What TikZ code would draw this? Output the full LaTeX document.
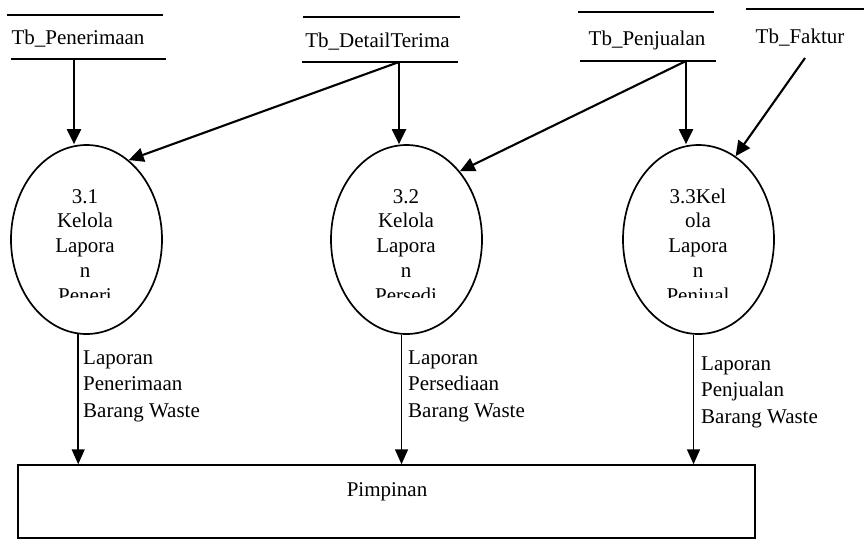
\documentclass[tikz,border=0pt]{standalone}
\usepackage{fontspec}
\setmainfont{Liberation Serif}
\usetikzlibrary{arrows.meta,shapes.geometric}
\begin{document}
\begin{tikzpicture}[x=1pt,y=-1pt,
  every node/.style={font=\fontsize{21}{25}\selectfont, inner sep=0pt},
  store/.style={anchor=base},
  storeline/.style={line width=1.6pt},
  proc/.style={draw, ellipse, line width=1.7pt, minimum width=151pt, minimum height=189pt},
  proctext/.style={anchor=base, align=center, font=\fontsize{21}{24.7}\selectfont},
  flow/.style={line width=2.1pt, -{Triangle[length=15pt,width=14pt]}},
  outflow/.style={line width=1.5pt, -{Triangle[length=15pt,width=13pt]}},
  flowlabel/.style={anchor=base west, align=left, font=\fontsize{21}{26.5}\selectfont},
  entity/.style={draw, line width=1.5pt}]
\useasboundingbox (0,0) rectangle (864,539);

% data stores
\node[store] (s1) at (78,44) {Tb\_Penerimaan};
\draw[storeline] (7,15) -- (163,15) (11,59) -- (166,59);
\node[store] (s2) at (377.5,47) {Tb\_DetailTerima};
\draw[storeline] (303,17) -- (460,17) (302,62) -- (458,62);
\node[store] (s3) at (647,45) {Tb\_Penjualan};
\draw[storeline] (578,12) -- (714,12) (580,61) -- (716,61);
\node[store] (s4) at (800,43) {Tb\_Faktur};
\draw[storeline] (746,9) -- (864,9);

\coordinate (s1o) at (74,59);
\coordinate (s2o) at (399,62);
\coordinate (s3o) at (686,61);
\coordinate (s4o) at (805,58);

% processes
\node[proc] (p1) at (86.5,239.5) {};
\node[proc] (p2) at (406.5,239.5) {};
\node[proc] (p3) at (698.5,239.5) {};

% process names, cut off at the bottom of their text frames
\begin{scope}
  \clip (35,175) rectangle (135,297);
  \node[proctext] (p1t) at (85,302) {3.1\\Kelola\\Lapora\\n\\Peneri};
\end{scope}
\begin{scope}
  \clip (356,175) rectangle (456,297);
  \node[proctext] (p2t) at (406,302) {3.2\\Kelola\\Lapora\\n\\Persedi};
\end{scope}
\begin{scope}
  \clip (648,175) rectangle (748,297);
  \node[proctext] (p3t) at (698,302) {3.3Kel\\ola\\Lapora\\n\\Penjual};
\end{scope}

% external entity
\node[entity, minimum width=737pt, minimum height=73pt] (boss) at (386.5,501.5) {};
\node[anchor=base] (bosst) at (387,496) {Pimpinan};

% incoming flows
\draw[flow] (s1o) -- (s1o |- p1.north);
\draw[flow] (s2o) -- (p1.62);
\draw[flow] (s2o) -- (s2o |- p2.north);
\draw[flow] (s3o) -- (p2.52);
\draw[flow] (s3o) -- (s3o |- p3.north);
\draw[flow] (s4o) -- (p3.66);

% outgoing flows
\draw[outflow] (p1.265) -- (p1.265 |- boss.north);
\draw[outflow] (p2.267) -- (p2.267 |- boss.north);
\draw[outflow] (p3.267.5) -- (p3.267.5 |- boss.north);

\node[flowlabel] (l1) at (83,417) {Laporan\\Penerimaan\\Barang Waste};
\node[flowlabel] (l2) at (408,417) {Laporan\\Persediaan\\Barang Waste};
\node[flowlabel] (l3) at (701,423) {Laporan\\Penjualan\\Barang Waste};
\end{tikzpicture}
\end{document}
